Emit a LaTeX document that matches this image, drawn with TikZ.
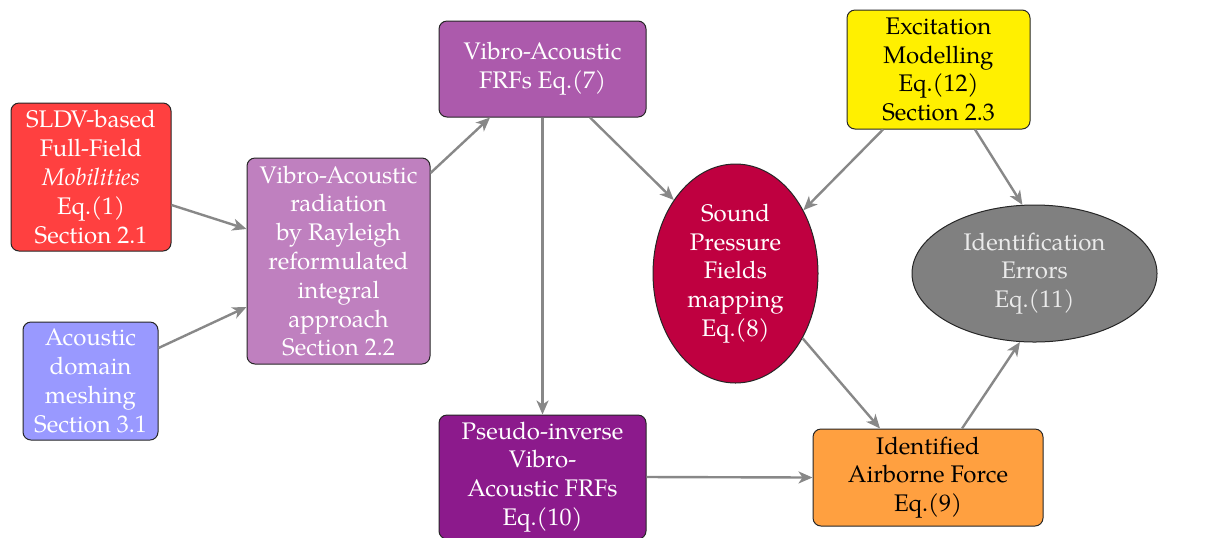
\documentclass[tikz,border=0pt]{standalone}
\usepackage{fontspec}
\setmainfont{TeX Gyre Pagella}
\usetikzlibrary{arrows.meta,shapes.geometric}
\definecolor{cRed}{RGB}{255,64,64}
\definecolor{cBlue}{RGB}{153,153,255}
\definecolor{cRay}{RGB}{191,128,191}
\definecolor{cVA}{RGB}{172,90,172}
\definecolor{cPinv}{RGB}{140,26,140}
\definecolor{cSPF}{RGB}{191,0,64}
\definecolor{cErr}{RGB}{128,128,128}
\definecolor{cExc}{RGB}{255,240,0}
\definecolor{cAir}{RGB}{255,160,64}
\definecolor{cArrow}{RGB}{136,136,136}
\begin{document}
\begin{tikzpicture}[x=1pt,y=1pt,
  every node/.style={font=\fontsize{12}{14.4}\selectfont},
  box/.style={draw=black!85, line width=0.5pt, rounded corners=4pt, align=center, inner sep=2pt},
  ell/.style={draw=black!85, line width=0.5pt, ellipse, align=center, inner sep=0pt},
  conn/.style={draw=cArrow, line width=1.2pt, -{Stealth[length=7pt,width=6pt,inset=2pt]}}]
\useasboundingbox (0,0) rectangle (614.5,-268.5);
\node[box, fill=cRed, text=white, minimum width=80pt, minimum height=74pt] (sldv) at (45.5,-88.5)
  {SLDV-based\\Full-Field\\\textit{Mobilities}\\Eq.(1)\\Section 2.1};
\node[box, fill=cBlue, text=white, minimum width=67.5pt, minimum height=59pt] (acou) at (45.25,-190.5)
  {Acoustic\\domain\\meshing\\Section 3.1};
\node[box, fill=cRay, text=white, minimum width=91.5pt, minimum height=103pt] (rayl) at (169.25,-130.5)
  {Vibro-Acoustic\\radiation\\by Rayleigh\\reformulated\\integral\\approach\\Section 2.2};
\node[box, fill=cVA, text=white, minimum width=103.5pt, minimum height=48pt] (vafrf) at (271.25,-34.5)
  {Vibro-Acoustic\\FRFs Eq.(7)};
\node[box, fill=cExc, text=black, minimum width=91.5pt, minimum height=59.5pt] (exc) at (469.25,-34.75)
  {Excitation\\Modelling\\Eq.(12)\\Section 2.3};
\node[ell, fill=cSPF, text=white, minimum width=82.5pt, minimum height=109.5pt] (spf) at (367.75,-136.75)
  {Sound\\Pressure\\Fields\\mapping\\Eq.(8)};
\node[ell, fill=cErr, text=white!92!black, minimum width=122.5pt, minimum height=68.5pt] (err) at (517.25,-136.75)
  {Identification\\Errors\\Eq.(11)};
\node[box, fill=cPinv, text=white, minimum width=103.5pt, minimum height=62pt] (pinv) at (271.25,-238.5)
  {Pseudo-inverse\\Vibro-\\Acoustic FRFs\\Eq.(10)};
\node[box, fill=cAir, text=black, minimum width=115pt, minimum height=48.5pt] (air) at (464,-238.75)
  {Identified\\Airborne Force\\Eq.(9)};
\draw[conn] ([yshift=-14pt]sldv.east) -- ([yshift=16pt]rayl.west);
\draw[conn] ([yshift=16.5pt]acou.east) -- ([yshift=-23pt]rayl.west);
\draw[conn] ([yshift=44pt]rayl.east) -- ([xshift=-26.25pt]vafrf.south);
\draw[conn] (vafrf.south) -- (pinv.north);
\draw[conn] ([xshift=23.75pt]vafrf.south) -- (spf.130);
\draw[conn] ([xshift=-27.75pt]exc.south) -- (spf.43);
\draw[conn] ([xshift=18.25pt]exc.south) -- (err.100);
\draw[conn] (spf.-44) -- ([xshift=-24pt]air.north);
\draw[conn] ([xshift=17pt]air.north) -- (err.-102);
\draw[conn] (pinv.east) -- (air.west);
\end{tikzpicture}
\end{document}
